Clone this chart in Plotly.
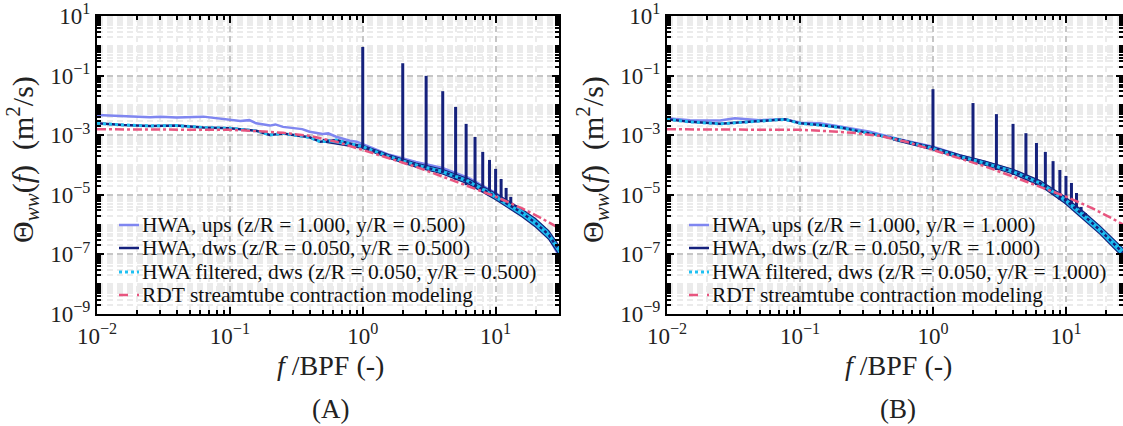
import plotly.graph_objects as go

# ---------------- Panel A (y/R = 0.500) ----------------
fA_ups = [0.010, 0.0158, 0.0251, 0.030, 0.0398, 0.0631, 0.1, 0.12, 0.14, 0.158, 0.2, 0.22, 0.251, 0.3, 0.35, 0.398,
          0.5, 0.55, 0.631, 0.8, 0.9, 1.0, 1.585, 2.512, 3.98, 6.31, 10, 15.85, 19.95, 25.1, 30]
vA_ups = [4.8e-3, 4.5e-3, 4.0e-3, 4.2e-3, 3.9e-3, 4.2e-3, 3.4e-3, 3.0e-3, 3.2e-3, 2.5e-3, 2.1e-3, 2.3e-3, 1.9e-3,
          1.7e-3, 1.6e-3, 1.3e-3, 1.1e-3, 1.15e-3, 8.9e-4, 6.5e-4, 6.0e-4, 5.0e-4, 2.2e-4, 1.26e-4, 7.9e-5,
          3.6e-5, 1.15e-5, 2.45e-6, 1.12e-6, 3.8e-7, 8.9e-8]

fA_dws = [0.010, 0.0158, 0.0251, 0.0398, 0.0631, 0.1, 0.158, 0.2, 0.251, 0.398, 0.48, 0.631, 1.0, 1.585, 2.512,
          3.98, 6.31, 10, 15.85, 19.95, 25.1, 30]
vA_dws = [2.5e-3, 2.2e-3, 2.05e-3, 2.1e-3, 1.8e-3, 1.7e-3, 1.4e-3, 1.02e-3, 1.15e-3, 8.5e-4, 6.0e-4, 6.9e-4,
          4.1e-4, 1.9e-4, 1.0e-4, 6.0e-5, 2.75e-5, 8.7e-6, 2.45e-6, 1.15e-6, 4.5e-7, 1.4e-7]

fA_band = [0.5, 1.0, 1.585, 2.512, 3.98, 6.31, 10, 15.85, 19.95, 25.1, 30]
vA_band_hi = [7.2e-4, 4.6e-4, 2.2e-4, 1.17e-4, 7.2e-5, 3.4e-5, 1.12e-5, 3.3e-6, 1.6e-6, 6.3e-7, 2.0e-7]
vA_band_lo = [6.0e-4, 3.6e-4, 1.66e-4, 8.5e-5, 5.0e-5, 2.24e-5, 6.8e-6, 1.8e-6, 8.3e-7, 3.2e-7, 9.8e-8]

harm = [1, 2, 3, 4, 5, 6, 7, 8, 9, 10, 11, 12, 13, 14]
vA_peak = [0.91, 0.26, 0.098, 0.030, 8.9e-3, 2.4e-3, 8.7e-4, 2.75e-4, 1.48e-4, 7.4e-5, 3.4e-5, 1.7e-5, 8.5e-6, 4.5e-6]
vA_base = [3.7e-4, 1.26e-4, 7.9e-5, 5.4e-5, 3.2e-5, 2.1e-5, 1.7e-5, 1.23e-5, 9.8e-6, 7.8e-6, 5.8e-6, 4.9e-6,
           3.9e-6, 3.2e-6]

f_rdt = [0.01, 0.02, 0.05, 0.1, 0.158, 0.251, 0.398, 0.631, 1.0, 1.585, 2.512, 3.98, 6.31, 10, 15.85, 22, 30]
v_rdt = [1.58e-3, 1.58e-3, 1.55e-3, 1.51e-3, 1.38e-3, 1.2e-3, 9.5e-4, 6.0e-4, 3.2e-4, 1.66e-4, 8.7e-5, 4.1e-5,
         1.86e-5, 8.7e-6, 3.5e-6, 1.66e-6, 7.6e-7]

# ---------------- Panel B (y/R = 1.000) ----------------
fB_ups = [0.010, 0.0149, 0.0251, 0.0324, 0.050, 0.077, 0.1, 0.141, 0.2, 0.336, 0.565, 1.0, 1.6, 2.46, 4.0, 6.4,
          9.8, 13.9, 18, 26.9, 30]
vB_ups = [3.7e-3, 3.2e-3, 3.1e-3, 3.7e-3, 3.2e-3, 3.4e-3, 2.6e-3, 2.5e-3, 1.95e-3, 1.32e-3, 7.2e-4, 4.1e-4,
          2.1e-4, 1.26e-4, 6.6e-5, 2.6e-5, 6.8e-6, 1.78e-6, 6.0e-7, 1.0e-7, 7e-8]

fB_dws = [0.010, 0.0149, 0.0251, 0.0324, 0.050, 0.077, 0.1, 0.141, 0.2, 0.336, 0.565, 1.0, 1.6, 2.46, 4.0, 6.4,
          9.8, 13.9, 18, 26.9, 30]
vB_dws = [3.4e-3, 2.8e-3, 2.4e-3, 2.6e-3, 3.1e-3, 3.4e-3, 2.5e-3, 2.2e-3, 1.8e-3, 1.15e-3, 6.9e-4, 3.6e-4,
          1.9e-4, 1.15e-4, 6.0e-5, 2.45e-5, 6.8e-6, 1.86e-6, 6.6e-7, 1.12e-7, 8e-8]

fB_band = [0.5, 1.0, 1.6, 2.46, 4.0, 6.4, 9.8, 13.9, 18, 26.9, 30]
vB_band_hi = [8.3e-4, 4.1e-4, 2.2e-4, 1.35e-4, 7.2e-5, 3.0e-5, 8.7e-6, 2.5e-6, 9.1e-7, 1.6e-7, 1.2e-7]
vB_band_lo = [6.9e-4, 3.2e-4, 1.66e-4, 9.8e-5, 5.0e-5, 2.0e-5, 5.2e-6, 1.38e-6, 4.8e-7, 7.8e-8, 5.8e-8]

vB_peak = [0.035, 0.012, 5.1e-3, 2.4e-3, 1.17e-3, 5.5e-4, 2.75e-4, 1.35e-4, 6.8e-5, 4.3e-5, 2.5e-5, 1.15e-5,
           3.9e-6, 2.45e-6]
vB_base = [3.2e-4, 1.17e-4, 6.8e-5, 4.6e-5, 3.2e-5, 2.1e-5, 1.45e-5, 1.0e-5, 6.8e-6, 5.2e-6, 3.9e-6, 3.1e-6,
           2.45e-6, 1.78e-6]

labels_A = ["HWA, ups (z/R = 1.000, y/R = 0.500)",
            "HWA, dws (z/R = 0.050, y/R = 0.500)",
            "HWA filtered, dws (z/R = 0.050, y/R = 0.500)",
            "RDT streamtube contraction modeling"]
labels_B = ["HWA, ups (z/R = 1.000, y/R = 1.000)",
            "HWA, dws (z/R = 0.050, y/R = 1.000)",
            "HWA filtered, dws (z/R = 0.050, y/R = 1.000)",
            "RDT streamtube contraction modeling"]

C_UPS = "#7f86f0"
C_DWS = "#15217c"
C_FIL = "#1ec0f2"
C_RDT = "#e8557f"
FONT = "Liberation Serif"

W, H = 1123, 426

fig = go.Figure()


def add_panel(xa, ya, f_ups, v_ups, f_dws, v_dws, f_band, b_hi, b_lo, peaks, bases, labels):
    fig.add_trace(go.Scatter(x=f_ups, y=v_ups, mode="lines", line=dict(color=C_UPS, width=2.5),
                             name=labels[0], xaxis=xa, yaxis=ya, showlegend=False))
    fig.add_trace(go.Scatter(x=f_band, y=b_hi, mode="lines", line=dict(color=C_DWS, width=1.2),
                             showlegend=False, xaxis=xa, yaxis=ya, hoverinfo="skip"))
    fig.add_trace(go.Scatter(x=f_band, y=b_lo, mode="lines", line=dict(color=C_DWS, width=1.2),
                             fill="tonexty", fillcolor=C_FIL,
                             showlegend=False, xaxis=xa, yaxis=ya, hoverinfo="skip"))
    fig.add_trace(go.Scatter(x=f_dws, y=v_dws, mode="lines", line=dict(color=C_DWS, width=2.5),
                             name=labels[1], xaxis=xa, yaxis=ya, showlegend=False))
    sx, sy = [], []
    for n, p, b in zip(harm, peaks, bases):
        sx += [n, n, None]
        sy += [b, p, None]
    fig.add_trace(go.Scatter(x=sx, y=sy, mode="lines", line=dict(color=C_DWS, width=3),
                             showlegend=False, xaxis=xa, yaxis=ya, hoverinfo="skip"))
    fig.add_trace(go.Scatter(x=f_dws, y=v_dws, mode="lines", line=dict(color=C_FIL, width=3, dash="dot"),
                             name=labels[2], xaxis=xa, yaxis=ya, showlegend=False))
    fig.add_trace(go.Scatter(x=f_rdt, y=v_rdt, mode="lines", line=dict(color=C_RDT, width=2.5, dash="dashdot"),
                             name=labels[3], xaxis=xa, yaxis=ya, showlegend=False))


add_panel("x", "y", fA_ups, vA_ups, fA_dws, vA_dws, fA_band, vA_band_hi, vA_band_lo, vA_peak, vA_base, labels_A)
add_panel("x2", "y2", fB_ups, vB_ups, fB_dws, vB_dws, fB_band, vB_band_hi, vB_band_lo, vB_peak, vB_base, labels_B)

# legend (drawn as text + sample lines, to match the compact row spacing)
leg_rows_px = [225, 248, 272, 295]
leg_styles = [dict(color=C_UPS, width=2.5), dict(color=C_DWS, width=2.5),
              dict(color=C_FIL, width=3, dash="dot"), dict(color=C_RDT, width=2.5, dash="dash")]
for x0_px, labels in ((119, labels_A), (689, labels_B)):
    for ypx, lab, st in zip(leg_rows_px, labels, leg_styles):
        fig.add_shape(type="line", xref="paper", yref="paper", x0=x0_px / W, x1=(x0_px + 20) / W,
                      y0=1 - ypx / H, y1=1 - ypx / H, line=st)
        fig.add_annotation(x=(x0_px + 21) / W, y=1 - ypx / H, xref="paper", yref="paper", text=lab,
                           showarrow=False, xanchor="left", yanchor="middle",
                           font=dict(family=FONT, size=21.5, color="#111"))

top_px, bot_px = 16, 314
ydom = [1 - bot_px / H, 1 - top_px / H]

x_minor = [m * 10.0 ** k for k in range(-2, 2) for m in range(2, 10)]
y_minor = [m * 10.0 ** k for k in range(-9, 1) for m in range(1, 10) if not (m == 1 and (k % 2 != 0))]


def sup(e):
    return "10<sup>" + (str(e) if e >= 0 else "\u2212" + str(-e)) + "</sup>"


xaxis_common = dict(
    type="log", tickmode="array", tickvals=[1e-2, 1e-1, 1, 10], ticktext=[sup(e) for e in (-2, -1, 0, 1)],
    ticks="inside", ticklen=7, tickwidth=1.5, tickcolor="black",
    showline=True, linecolor="black", linewidth=2, mirror="allticks",
    showgrid=True, gridcolor="#c6c6c6", gridwidth=1.5, griddash="6px,4px",
    minor=dict(tickmode="array", tickvals=x_minor, ticks="inside", ticklen=4, tickcolor="black",
               showgrid=True, gridcolor="#ebebeb", gridwidth=2, griddash="6px,4px"),
    tickfont=dict(family=FONT, size=23, color="#222"), zeroline=False, automargin=False,
)
yaxis_common = dict(
    type="log", tickmode="array", tickvals=[10.0 ** e for e in (1, -1, -3, -5, -7, -9)],
    ticktext=[sup(e) for e in (1, -1, -3, -5, -7, -9)],
    ticks="inside", ticklen=7, tickwidth=1.5, tickcolor="black",
    showline=True, linecolor="black", linewidth=2, mirror="allticks",
    showgrid=True, gridcolor="#c6c6c6", gridwidth=1.5, griddash="6px,4px",
    minor=dict(tickmode="array", tickvals=y_minor, ticks="inside", ticklen=4, tickcolor="black",
               showgrid=True, gridcolor="#ebebeb", gridwidth=2, griddash="6px,4px"),
    tickfont=dict(family=FONT, size=23, color="#222"), zeroline=False, range=[-9, 1], domain=ydom,
    automargin=False,
)

fig.update_layout(
    template="none", showlegend=False,
    width=W, height=H, margin=dict(l=0, r=0, t=0, b=0, pad=0, autoexpand=False),
    paper_bgcolor="white", plot_bgcolor="white",
    xaxis=dict(xaxis_common, domain=[97 / W, 559 / W], range=[-2, 1.4771], anchor="y"),
    yaxis=dict(yaxis_common, anchor="x"),
    xaxis2=dict(xaxis_common, domain=[667 / W, 1.0], range=[-2, 1.429], anchor="y2"),
    yaxis2=dict(yaxis_common, anchor="x2"),
)

ytitle = "\u0398<sub><i>ww</i></sub>(<i>f</i>)  (m<sup>2</sup>/s)"
xtitle = "<i>f</i> /BPF (-)"
for cx, cxx, lab in ((22, 330, "(A)"), (592, 898, "(B)")):
    fig.add_annotation(x=cx / W, y=1 - 160 / H, xref="paper", yref="paper", text=ytitle, textangle=-90,
                       showarrow=False, font=dict(family=FONT, size=30, color="#222"),
                       xanchor="center", yanchor="middle")
    fig.add_annotation(x=cxx / W, y=1 - 365 / H, xref="paper", yref="paper", text=xtitle,
                       showarrow=False, font=dict(family=FONT, size=28, color="#222"),
                       xanchor="center", yanchor="middle")
    fig.add_annotation(x=cxx / W, y=1 - 409 / H, xref="paper", yref="paper", text=lab,
                       showarrow=False, font=dict(family=FONT, size=27, color="#222"),
                       xanchor="center", yanchor="middle")

fig.write_html("out.html", config={"displayModeBar": False},
               post_script="document.body.style.margin='0px';document.body.style.padding='0px';")
